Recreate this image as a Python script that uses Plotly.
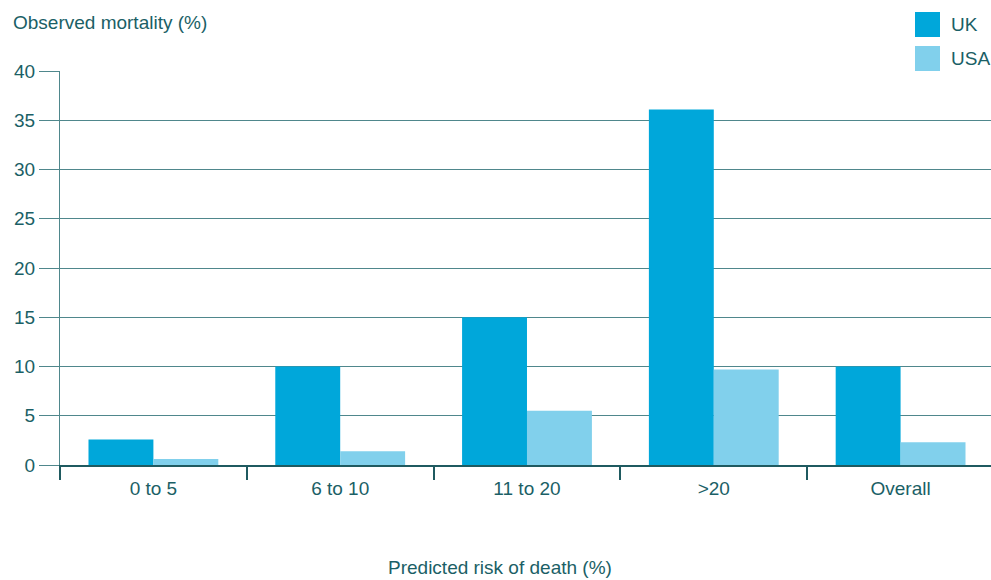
import plotly.graph_objects as go

categories = ["0 to 5", "6 to 10", "11 to 20", ">20", "Overall"]
uk_values = [2.6, 10.0, 15.0, 36.1, 10.0]
usa_values = [0.6, 1.4, 5.5, 9.7, 2.3]
series_names = ["UK", "USA"]
series_colors = ["#00a7da", "#81d0ec"]
y_ticks = [0, 5, 10, 15, 20, 25, 30, 35, 40]

TEXT = "#1b5f66"
GRID = "#4f878c"
DARK = "#1f5a60"
FONT = "Liberation Sans, Arial, Helvetica, sans-serif"
FS = 19

W, H = 991, 580
ML, MR, MT, MB = 60, 0, 71, 115
PW, PH = W - ML - MR, H - MT - MB


def px(x):
    return (x - ML) / PW


def py(y):
    return (H - MB - y) / PH


fig = go.Figure()
for name, vals, col in zip(series_names, [uk_values, usa_values], series_colors):
    fig.add_trace(go.Bar(x=categories, y=vals, name=name, marker=dict(color=col, line=dict(width=0)),
                         showlegend=False))

shapes = []
annotations = []
# legend background (covers top gridline)
shapes.append(dict(type="rect", xref="paper", yref="paper", x0=px(905), x1=1.0, y0=py(76), y1=py(0),
                   fillcolor="white", line=dict(width=0), layer="above"))
leg_tops = [12, 46]
for name, col, top in zip(series_names, series_colors, leg_tops):
    shapes.append(dict(type="rect", xref="paper", yref="paper", x0=px(915), x1=px(940),
                       y0=py(top + 25), y1=py(top), fillcolor=col, line=dict(width=0), layer="above"))
    annotations.append(dict(text=name, xref="paper", yref="paper", x=px(949), y=py(top + 13),
                            xanchor="left", yanchor="middle", showarrow=False,
                            font=dict(size=FS, color=TEXT, family=FONT)))

annotations.append(dict(text="Predicted risk of death (%)", xref="paper", yref="paper",
                        x=px(500), y=py(567), xanchor="center", yanchor="middle", showarrow=False,
                        font=dict(size=FS, color=TEXT, family=FONT)))

fig.update_layout(
    width=W, height=H,
    margin=dict(l=ML, r=MR, t=MT, b=MB, pad=0),
    paper_bgcolor="white", plot_bgcolor="white",
    barmode="group", bargap=0.305, bargroupgap=0,
    font=dict(family=FONT, size=FS, color=TEXT),
    title=dict(text="Observed mortality (%)", x=13 / W, xanchor="left", xref="container",
               y=1 - 22 / H, yanchor="middle", font=dict(size=FS, color=TEXT, family=FONT)),
    shapes=shapes,
    annotations=annotations,
    xaxis=dict(range=[-0.5, 4.484], showgrid=False, showline=True, linecolor=DARK, linewidth=1.5,
               ticks="outside", tickson="boundaries", ticklen=13, tickcolor=DARK, tickwidth=1.5,
               ticklabelstandoff=5,
               tickfont=dict(size=FS, color=TEXT, family=FONT), zeroline=False),
    yaxis=dict(range=[0, 40], tickvals=y_ticks, showgrid=True, gridcolor=GRID, gridwidth=1.3,
               zeroline=False, showline=True, linecolor=GRID, linewidth=1.3,
               ticks="outside", ticklen=20, tickcolor=GRID, tickwidth=1.3,
               tickfont=dict(size=FS, color=TEXT, family=FONT)),
)

fig.write_html("out.html", config={"displayModeBar": False},
               post_script="document.body.style.margin='0';document.body.style.overflow='hidden';")
